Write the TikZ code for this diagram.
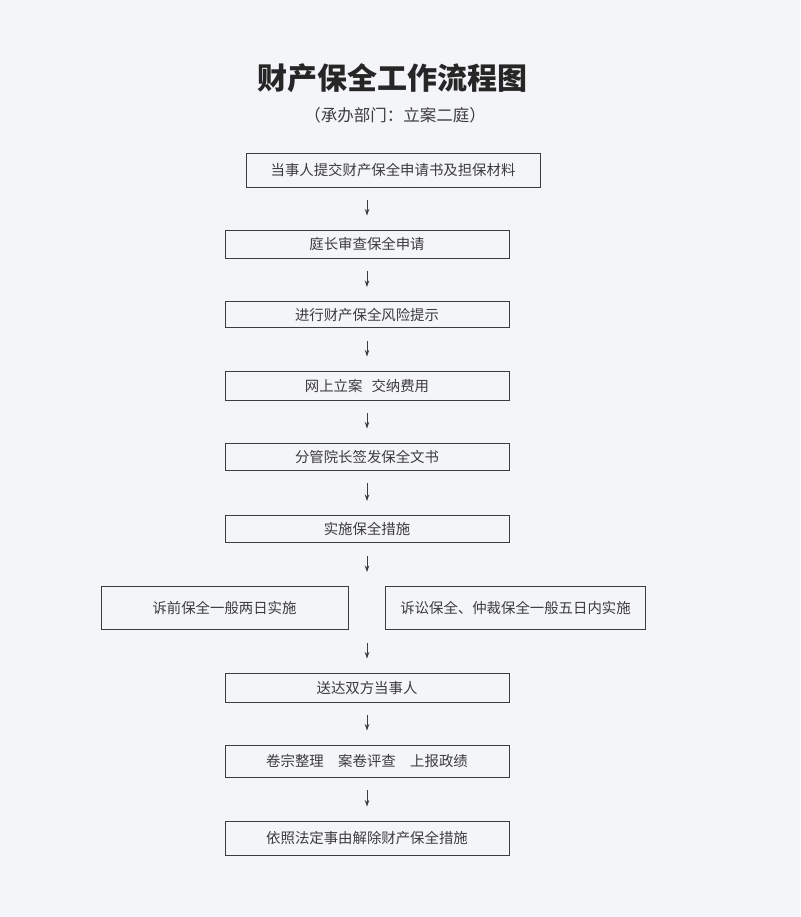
\documentclass[tikz,border=0pt]{standalone}
\usepackage{fontspec}
\usepackage{tikz}
\usetikzlibrary{arrows.meta}
\newfontfamily\cjk{Noto Sans CJK SC}
\definecolor{paper}{RGB}{244,245,248}
\definecolor{ink}{RGB}{60,60,64}
\newcommand{\stepnode}[5]{
  \node[box, minimum width=#4, minimum height=#5] (#1) at #2 {#3};
}
\tikzset{
  box/.style  = {draw=ink, line width=0.95pt, inner sep=0pt,
                 text=ink, font=\cjk\fontsize{14.4}{16}\selectfont},
  arr/.style  = {draw=ink, line width=0.9pt,
                 -{Stealth[length=6.5pt,width=4.5pt]},
                 shorten <=13pt, shorten >=14pt}
}

\begin{document}
\begin{tikzpicture}[x=1pt,y=-1pt]
	\fill[paper] (0,0) rectangle (800,917);
	\useasboundingbox (0,0) rectangle (800,917);
	\node[text=black!85, font=\cjk\bfseries\fontsize{30}{32}\selectfont] (title) at (392,78) {财产保全工作流程图};
	\node[text=ink, font=\cjk\fontsize{16.5}{18}\selectfont] (dept) at (395,115) {（承办部门：立案二庭）};
	\stepnode{apply}{(393,170)}{当事人提交财产保全申请书及担保材料}{294pt}{34pt}
	\stepnode{review}{(367,244)}{庭长审查保全申请}{284pt}{28pt}
	\stepnode{risk}{(367,314.5)}{进行财产保全风险提示}{284pt}{26pt}
	\stepnode{online}{(367,385.5)}{网上立案\hspace{9pt}交纳费用}{284pt}{29pt}
	\stepnode{sign}{(367,456.5)}{分管院长签发保全文书}{284pt}{27pt}
	\stepnode{execute}{(367,529)}{实施保全措施}{284pt}{27pt}
	\stepnode{before}{(224.5,608)}{诉前保全一般两日实施}{247pt}{43pt}
	\stepnode{during}{(515.5,608)}{诉讼保全、仲裁保全一般五日内实施}{260pt}{43pt}
	\stepnode{deliver}{(367,687.5)}{送达双方当事人}{284pt}{29pt}
	\stepnode{archive}{(367,761)}{卷宗整理\quad 案卷评查\quad 上报政绩}{284pt}{32pt}
	\stepnode{release}{(367,838)}{依照法定事由解除财产保全措施}{284pt}{34pt}
	\draw[arr] (review |- apply.south) -- (review.north);
	\draw[arr] (review) -- (risk);
	\draw[arr] (risk) -- (online);
	\draw[arr] (online) -- (sign);
	\draw[arr] (sign) -- (execute);
	\draw[arr] (execute.south) -- (execute.south |- before.north);
	\draw[arr] (deliver |- before.south) -- (deliver.north);
	\draw[arr] (deliver) -- (archive);
	\draw[arr] (archive) -- (release);
\end{tikzpicture}
\end{document}
